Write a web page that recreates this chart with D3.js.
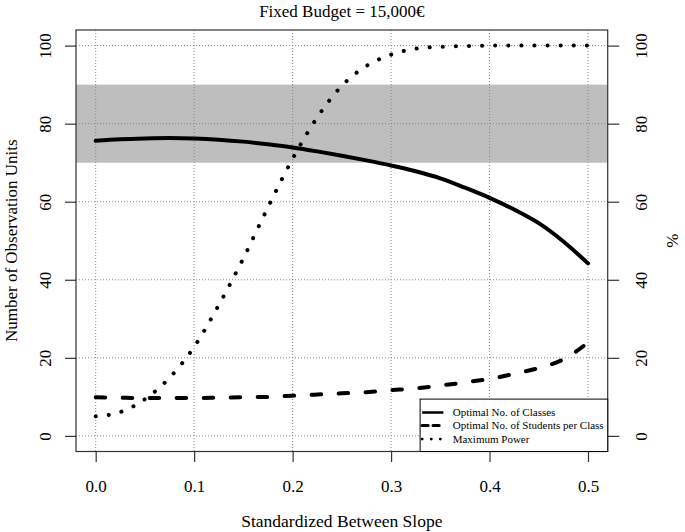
<!DOCTYPE html>
<html>
<head>
<meta charset="utf-8">
<script src="https://cdn.jsdelivr.net/npm/d3@7"></script>
<style>
  body { margin: 0; background: #fff; }
  svg { display: block; font-family: "Liberation Serif", "DejaVu Serif", serif; }
</style>
</head>
<body>
<div id="chart"></div>
<script>
// values
var slopes = [0, 0.025, 0.05, 0.075, 0.1, 0.125, 0.15, 0.175, 0.2, 0.225, 0.25,
              0.275, 0.3, 0.325, 0.35, 0.375, 0.4, 0.425, 0.45, 0.475, 0.5];
var optClasses = [75.6, 76.0, 76.2, 76.3, 76.2, 75.9, 75.4, 74.7, 73.9, 72.9, 71.8,
                  70.6, 69.3, 67.8, 66.0, 63.6, 61.0, 58.0, 54.5, 49.8, 44.2];
var optStudents = [9.9, 9.8, 9.7, 9.7, 9.7, 9.8, 9.9, 10.0, 10.3, 10.6, 10.9,
                   11.2, 11.7, 12.2, 12.9, 13.7, 14.6, 15.9, 17.4, 19.6, 23.9];
var maxPower = [5.0, 6.1, 9.4, 14.9, 22.8, 33.5, 45.5, 58.6, 71.0, 81.6, 89.7,
                94.8, 97.7, 99.2, 99.7, 99.9, 100, 100, 100, 100, 100];
var band = [70, 90];
var xTicks = [0, 0.1, 0.2, 0.3, 0.4, 0.5];
var yTicks = [0, 20, 40, 60, 80, 100];
var legendLabels = ["Optimal No. of Classes", "Optimal No. of Students per Class", "Maximum Power"];

function drawChart() {
  var svgWidth = 685, svgHeight = 532;
  var margin = { top: 30, right: 77.3, bottom: 80.5, left: 76 };
  var width = svgWidth - margin.left - margin.right;
  var height = svgHeight - margin.top - margin.bottom;
  var serif = '"Liberation Serif", "DejaVu Serif", serif';

  var svg = d3.select("#chart").append("svg")
    .attr("width", svgWidth).attr("height", svgHeight);

  var chartGroup = svg.append("g")
    .attr("transform", `translate(${margin.left}, ${margin.top})`);

  var x = d3.scaleLinear().domain([-0.02, 0.52]).range([0, width]);
  var y = d3.scaleLinear().domain([-4, 104]).range([height, 0]);

  // grey target band
  chartGroup.append("rect")
    .attr("x", 0).attr("width", width)
    .attr("y", y(band[1])).attr("height", y(band[0]) - y(band[1]))
    .attr("fill", "#bebebe");

  // dotted grid
  chartGroup.selectAll(".vgrid").data(xTicks).enter().append("line")
    .attr("x1", d => x(d)).attr("x2", d => x(d))
    .attr("y1", 0).attr("y2", height)
    .attr("stroke", "#888").attr("stroke-width", 1).attr("stroke-dasharray", "1 2");
  chartGroup.selectAll(".hgrid").data(yTicks).enter().append("line")
    .attr("x1", 0).attr("x2", width)
    .attr("y1", d => y(d)).attr("y2", d => y(d))
    .attr("stroke", "#888").attr("stroke-width", 1).attr("stroke-dasharray", "1 2");

  function lineFor(vals) {
    return d3.line()
      .x((d, i) => x(slopes[i]))
      .y(d => y(d))
      .curve(d3.curveMonotoneX)(vals);
  }

  chartGroup.append("path").attr("d", lineFor(optClasses))
    .attr("fill", "none").attr("stroke", "#000").attr("stroke-width", 4)
    .attr("stroke-linecap", "round");
  chartGroup.append("path").attr("d", lineFor(optStudents))
    .attr("fill", "none").attr("stroke", "#000").attr("stroke-width", 4)
    .attr("stroke-linecap", "round").attr("stroke-dasharray", "9.5 17.5");
  chartGroup.append("path").attr("d", lineFor(maxPower))
    .attr("fill", "none").attr("stroke", "#000").attr("stroke-width", 4)
    .attr("stroke-linecap", "round").attr("stroke-dasharray", "0.1 13");

  // box
  chartGroup.append("rect")
    .attr("width", width).attr("height", height)
    .attr("fill", "none").attr("stroke", "#333").attr("stroke-width", 1.2);

  // axes
  var xAxis = chartGroup.append("g")
    .attr("transform", `translate(0, ${height})`)
    .call(d3.axisBottom(x).tickValues(xTicks).tickSize(10.5).tickFormat(d3.format(".1f")));
  xAxis.attr("font-family", null).attr("font-size", null);
  xAxis.select(".domain").remove();
  xAxis.selectAll("line").attr("stroke", "#333").attr("stroke-width", 1.2);
  xAxis.selectAll("text")
    .attr("y", 40).attr("dy", null)
    .style("font-family", serif).style("font-size", "17px").attr("fill", "#000");

  var yAxis = chartGroup.append("g")
    .call(d3.axisLeft(y).tickValues(yTicks).tickSize(11));
  yAxis.attr("font-family", null).attr("font-size", null);
  yAxis.select(".domain").remove();
  yAxis.selectAll("line").attr("stroke", "#333").attr("stroke-width", 1.2);
  yAxis.selectAll("text")
    .attr("x", null).attr("dy", null)
    .attr("text-anchor", "middle")
    .attr("transform", "translate(-25.3,0) rotate(-90)")
    .style("font-family", serif).style("font-size", "17px").attr("fill", "#000");

  var yAxisR = chartGroup.append("g")
    .attr("transform", `translate(${width}, 0)`)
    .call(d3.axisRight(y).tickValues(yTicks).tickSize(11.5));
  yAxisR.attr("font-family", null).attr("font-size", null);
  yAxisR.select(".domain").remove();
  yAxisR.selectAll("line").attr("stroke", "#333").attr("stroke-width", 1.2);
  yAxisR.selectAll("text")
    .attr("x", null).attr("dy", null)
    .attr("text-anchor", "middle")
    .attr("transform", "translate(39.6,0) rotate(-90)")
    .style("font-family", serif).style("font-size", "17px").attr("fill", "#000");

  // titles
  svg.append("text")
    .attr("x", margin.left + width / 2).attr("y", 17)
    .attr("text-anchor", "middle").attr("font-size", "17px")
    .text("Fixed Budget = 15,000€");
  svg.append("text")
    .attr("x", margin.left + width / 2).attr("y", 527)
    .attr("text-anchor", "middle").attr("font-size", "17.5px")
    .text("Standardized Between Slope");
  svg.append("text")
    .attr("transform", `translate(16.5, ${margin.top + height / 2}) rotate(-90)`)
    .attr("text-anchor", "middle").attr("font-size", "17px")
    .text("Number of Observation Units");
  svg.append("text")
    .attr("transform", `translate(678, ${margin.top + height / 2}) rotate(-90)`)
    .attr("text-anchor", "middle").attr("font-size", "17px")
    .text("%");

  // legend, bottom right
  var legW = 187.6, legH = 52.4;
  var legend = chartGroup.append("g")
    .attr("transform", `translate(${width - legW}, ${height - legH})`);
  legend.append("rect")
    .attr("width", legW).attr("height", legH)
    .attr("fill", "#fff").attr("stroke", "#000").attr("stroke-width", 1);
  var rowY = [13.4, 26.4, 40];
  var styles = [
    { w: 2.5, dash: null },
    { w: 3.2, dash: "6 5" },
    { w: 2.8, dash: "0.1 9" }
  ];
  legendLabels.forEach(function(lbl, i) {
    legend.append("line")
      .attr("x1", 2).attr("x2", 23.3)
      .attr("y1", rowY[i]).attr("y2", rowY[i])
      .attr("stroke", "#000").attr("stroke-width", styles[i].w)
      .attr("stroke-linecap", i == 0 ? "butt" : "round")
      .attr("stroke-dasharray", styles[i].dash);
    legend.append("text")
      .attr("x", 32.6).attr("y", rowY[i]).attr("dy", "0.35em")
      .attr("font-size", "11px")
      .text(lbl);
  });
}

document.addEventListener('DOMContentLoaded', function(){
  drawChart();
});
</script>
</body>
</html>
